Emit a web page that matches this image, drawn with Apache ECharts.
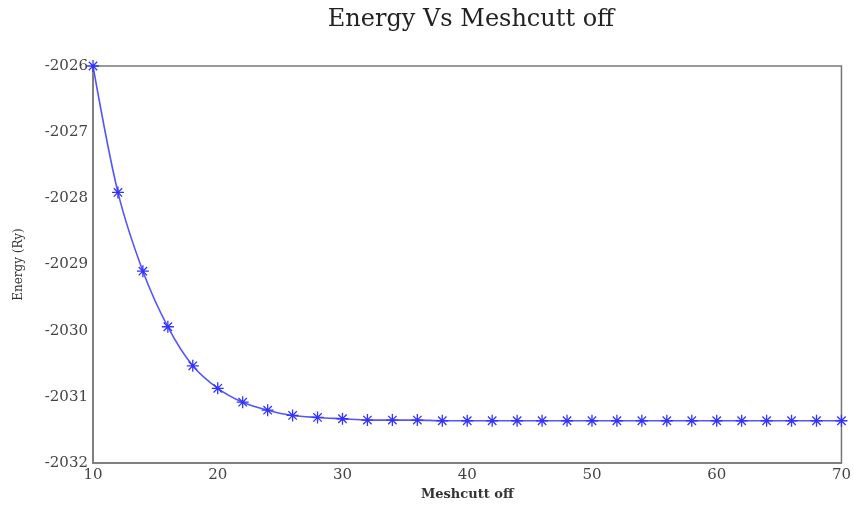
<!DOCTYPE html>
<html><head><meta charset="utf-8">
<script src="https://cdn.jsdelivr.net/npm/echarts@6/dist/echarts.min.js"></script>
<style>html,body{margin:0;padding:0;background:#fff}#c{width:854px;height:506px}</style>
</head><body><div id="c"></div>
<script>
const meshCutoff = [10,12,14,16,18,20,22,24,26,28,30,32,34,36,38,40,42,44,46,48,50,52,54,56,58,60,62,64,66,68,70];
const energy = [-2026.00,-2027.91,-2029.10,-2029.94,-2030.53,-2030.87,-2031.08,-2031.20,-2031.28,-2031.31,-2031.33,-2031.35,-2031.35,-2031.35,-2031.36,-2031.36,-2031.36,-2031.36,-2031.36,-2031.36,-2031.36,-2031.36,-2031.36,-2031.36,-2031.36,-2031.36,-2031.36,-2031.36,-2031.36,-2031.36,-2031.36];
const xTicks = [10,20,30,40,50,60,70];
const yTicks = [-2032,-2031,-2030,-2029,-2028,-2027,-2026];

const font = '"DejaVu Serif", "Liberation Serif", serif';
const chart = echarts.init(document.getElementById('c'));
chart.setOption({
  animation: false,
  backgroundColor: '#fff',
  title: {
    text: 'Energy Vs Meshcutt off', left: 466, top: 3, textAlign: 'center',
    textStyle: {fontFamily: font, fontSize: 24, fontWeight: 'normal', color: '#222'}
  },
  grid: {left: 93, right: 10, top: 66, bottom: 41, show: true, borderColor: '#777', borderWidth: 1.5},
  xAxis: {
    type: 'value', min: xTicks[0], max: xTicks[xTicks.length-1], interval: 10,
    name: 'Meshcutt off', nameLocation: 'middle', nameGap: 22,
    nameTextStyle: {fontFamily: font, fontSize: 13, fontWeight: 'bold', color: '#333'},
    axisLine: {show: true, lineStyle: {color: '#777', width: 1.5}},
    axisTick: {show: false}, splitLine: {show: false},
    axisLabel: {fontFamily: font, fontSize: 15, color: '#444', margin: 5, formatter: v => String(v)}
  },
  yAxis: {
    type: 'value', min: yTicks[0], max: yTicks[yTicks.length-1], interval: 1,
    name: 'Energy (Ry)', nameLocation: 'middle', nameGap: 68, nameRotate: 90,
    nameTextStyle: {fontFamily: font, fontSize: 12, color: '#333'},
    axisLine: {show: true, lineStyle: {color: '#777', width: 1.5}},
    axisTick: {show: false}, splitLine: {show: false},
    axisLabel: {fontFamily: font, fontSize: 15, color: '#444', margin: 5, formatter: v => String(v)}
  },
  series: [{
    type: 'line', smooth: 0.3,
    data: meshCutoff.map((x, i) => [x, energy[i]]),
    lineStyle: {color: '#5555ff', width: 1.6},
    symbol: 'path://M0,-6L0,6M-6,0L6,0M-4.2,-4.2L4.2,4.2M-4.2,4.2L4.2,-4.2',
    symbolSize: 12,
    itemStyle: {color: 'rgba(0,0,0,0)', borderColor: '#3333ff', borderWidth: 1.3},
    clip: false
  }]
});
</script></body></html>
